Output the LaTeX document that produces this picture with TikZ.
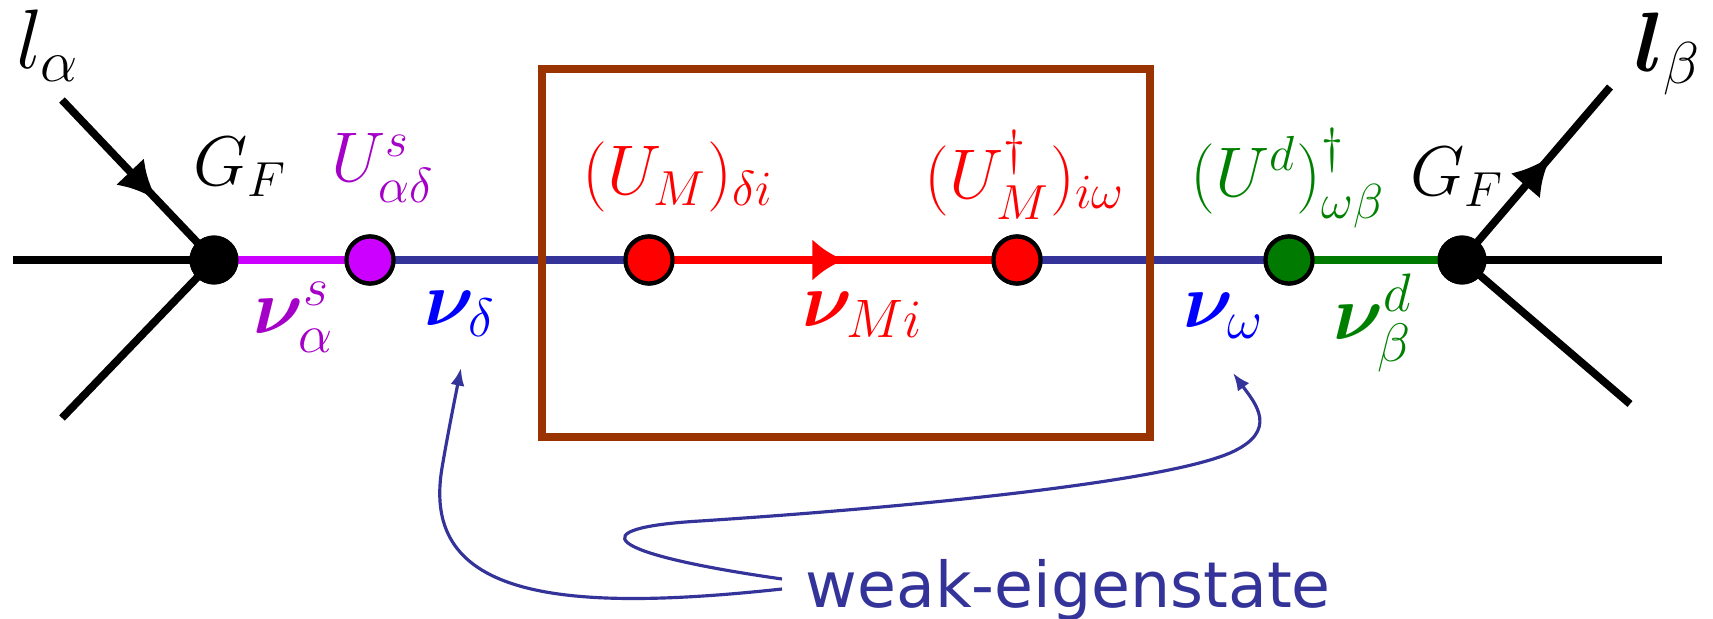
\RequirePackage{fix-cm}
\documentclass[tikz,border=0pt]{standalone}
\usepackage{amsmath,bm}
\usepackage{fontspec}
\newfontfamily\labelsans{DejaVu Sans}
\usetikzlibrary{arrows.meta,decorations.markings}
\definecolor{navyl}{RGB}{51,51,153}
\definecolor{violine}{RGB}{204,0,255}
\definecolor{viotext}{RGB}{165,0,200}
\definecolor{bluetext}{RGB}{0,0,255}
\definecolor{redc}{RGB}{255,0,0}
\definecolor{grnc}{RGB}{0,122,0}
\definecolor{grntext}{RGB}{0,128,0}
\definecolor{brownbox}{RGB}{153,51,0}
\tikzset{
  mainline/.style={line width=2.2pt},
  leg/.style={line width=2.2pt, black},
  bdot/.style={circle, fill=black, inner sep=0pt, minimum size=0.49cm},
  cdot/.style={circle, draw=black, line width=1.2pt, inner sep=0pt, minimum size=0.47cm},
  midarrow/.style={postaction={decorate}, decoration={markings, mark=at position #1 with {\arrow{Latex[length=11pt,width=11pt]}}}},
  redarrow/.style={postaction={decorate}, decoration={markings, mark=at position #1 with {\arrow{Latex[length=9pt,width=12pt]}}}},
  mlab/.style={font=\fontsize{20}{24}\selectfont, inner sep=0pt},
  nlab/.style={font=\fontsize{22}{26}\selectfont, inner sep=0pt},
  llab/.style={font=\fontsize{24}{28}\selectfont, inner sep=0pt},
  curvearrow/.style={navyl, line width=0.9pt, -{Latex[length=5pt,width=4pt]}},
}
\begin{document}
\begin{tikzpicture}[x=0.01cm,y=0.01cm]
\useasboundingbox (0,0) rectangle (1713,618);
% vertices
\node[bdot] (bl) at (214,358) {};
\node[cdot, fill=violine] (pd) at (370,358) {};
\node[cdot, fill=redc] (r1) at (649,358) {};
\node[cdot, fill=redc] (r2) at (1017,358) {};
\node[cdot, fill=grnc] (gd) at (1289,358) {};
\node[bdot] (br) at (1462,358) {};
% leg ends
\coordinate (lw) at (13,358);
\coordinate (lu) at (62,518);
\coordinate (ld) at (62,200);
\coordinate (rr) at (1662,358);
\coordinate (ru) at (1610,531);
\coordinate (rd) at (1630,214);
% lines
\draw[leg] (lw) -- (bl.center);
\draw[leg] (ld) -- (bl.center);
\draw[leg, midarrow=0.625] (lu) -- (bl.center);
\draw[leg] (br.center) -- (rr);
\draw[leg] (br.center) -- (rd);
\draw[leg, midarrow=0.6] (br.center) -- (ru);
\draw[mainline, violine] (bl.center) -- (pd.center);
\draw[mainline, navyl] (pd.center) -- (r1.center);
\draw[mainline, redc, redarrow=0.53] (r1.center) -- (r2.center);
\draw[mainline, navyl] (r2.center) -- (gd.center);
\draw[mainline, grnc] (gd.center) -- (br.center);
% box
\node[draw=brownbox, line width=2.2pt, minimum width=6.07cm, minimum height=3.68cm, inner sep=0pt] (box) at (846,365) {};
% dots on top
\node[bdot] at (bl) {};
\node[cdot, fill=violine] at (pd) {};
\node[cdot, fill=redc] at (r1) {};
\node[cdot, fill=redc] at (r2) {};
\node[cdot, fill=grnc] at (gd) {};
\node[bdot] at (br) {};
% labels
\node[llab] (la) at (48,572) {$l_\alpha$};
\node[llab] (lb) at (1668,564) {$\bm{l}_\beta$};
\node[mlab] (gfl) at (240,451) {$G_F$};
\node[mlab] (gfr) at (1457,441) {$G_F$};
\node[mlab, text=viotext] (us) at (383,450) {$U^s_{\alpha\delta}$};
\node[mlab, text=redc] (um) at (678,441) {$(U_M)_{\delta i}$};
\node[mlab, text=redc] (umd) at (1025,443) {$(U_M^\dagger)_{i\omega}$};
\node[mlab, text=grntext] (ud) at (1288,440) {$(U^d)^\dagger_{\omega\beta}$};
\node[nlab, text=viotext] (nsa) at (294,301) {$\bm{\nu}^s_\alpha$};
\node[nlab, text=bluetext] (nd) at (460,304) {$\bm{\nu}_\delta$};
\node[nlab, text=redc] (nm) at (863,303) {$\bm{\nu}_{Mi}$};
\node[nlab, text=bluetext] (nw) at (1224,302) {$\bm{\nu}_\omega$};
\node[nlab, text=grntext] (ndb) at (1373,295) {$\bm{\nu}^d_\beta$};
\node[anchor=base west, inner sep=0pt, text=navyl, font=\labelsans\fontsize{18}{22}\selectfont] (we) at (805,11) {weak-eigenstate};
% curved arrows
\coordinate (c1) at (782,29);
\coordinate (c2) at (782,39);
\coordinate (t1) at (461,250);
\coordinate (t2) at (1233,245);
\draw[curvearrow] (c1) .. controls (560,5) and (420,20) .. (442,150) .. controls (447,180) and (455,220) .. (t1);
\draw[curvearrow] (c2) .. controls (600,65) and (580,90) .. (700,97) .. controls (900,110) and (1160,135) .. (1230,165) .. controls (1280,187) and (1255,215) .. (t2);
\end{tikzpicture}
\end{document}
